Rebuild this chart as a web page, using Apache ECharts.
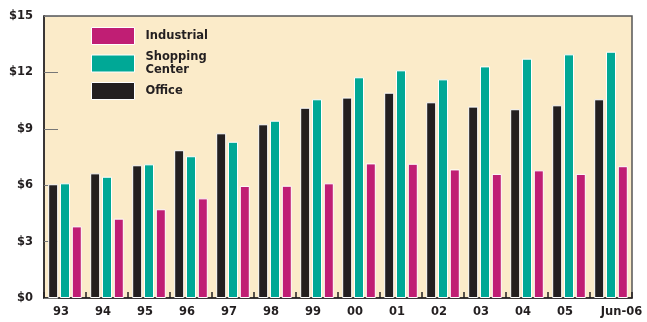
<!DOCTYPE html>
<html>
<head>
<meta charset="utf-8">
<script src="https://cdn.jsdelivr.net/npm/echarts@6/dist/echarts.min.js"></script>
<style>
  html, body { margin: 0; padding: 0; background: #ffffff; }
  #chart { width: 647px; height: 322px; }
</style>
</head>
<body>
<div id="chart"></div>
<script>
// Average rent per square foot by property type
const categories = ['93', '94', '95', '96', '97', '98', '99', '00', '01', '02', '03', '04', '05', 'Jun-06'];
const office = [6.05, 6.63, 7.06, 7.86, 8.76, 9.24, 10.12, 10.66, 10.92, 10.41, 10.18, 10.04, 10.25, 10.57];
const shoppingCenter = [6.10, 6.45, 7.11, 7.54, 8.31, 9.43, 10.57, 11.74, 12.11, 11.63, 12.32, 12.73, 12.96, 13.10];
const industrial = [3.81, 4.22, 4.72, 5.30, 5.96, 5.97, 6.10, 7.16, 7.14, 6.84, 6.60, 6.79, 6.60, 7.01];
const yTicks = [0, 3, 6, 9, 12, 15];

const colors = { office: '#231F20', shopping: '#00A896', industrial: '#C01E74' };
const font = '"DejaVu Sans", "Open Sans", sans-serif';

const chart = echarts.init(document.getElementById('chart'), null, { renderer: 'canvas' });

function barSeries(name, data, color) {
  return {
    name: name,
    type: 'bar',
    data: data,
    barWidth: 10,
    barGap: '18%',
    itemStyle: { color: color, borderColor: '#ffffff', borderWidth: 1 },
    emphasis: { disabled: true }
  };
}

chart.setOption({
  animation: false,
  backgroundColor: '#ffffff',
  grid: {
    left: 44, right: 15, top: 16, bottom: 24,
    show: true,
    backgroundColor: '#FBEBC9',
    borderColor: '#555555',
    borderWidth: 1.5
  },
  legend: {
    orient: 'vertical',
    left: 91,
    top: 27,
    padding: 0,
    icon: 'rect',
    itemWidth: 43,
    itemHeight: 17,
    itemGap: 5.5,
    data: ['Industrial', 'Shopping Center', 'Office'],
    formatter: function (name) { return name === 'Shopping Center' ? 'Shopping\nCenter' : name; },
    textStyle: {
      fontFamily: font, fontWeight: 'bold', fontSize: 11.5,
      color: '#231F20', lineHeight: 13, padding: [0, 0, 0, 6]
    },
    itemStyle: { borderColor: '#ffffff', borderWidth: 1 }
  },
  xAxis: {
    type: 'category',
    data: categories,
    axisLine: { show: true, lineStyle: { color: '#231F20', width: 1.5 } },
    axisTick: { show: true, inside: true, length: 6, interval: 0, lineStyle: { color: '#231F20', width: 1.5 } },
    axisLabel: {
      margin: 8,
      interval: 0,
      formatter: function (v) { return v === 'Jun-06' ? '{j|' + v + '}' : '{a|' + v + '}'; },
      rich: {
        a: { fontFamily: font, fontWeight: 'bold', fontSize: 11.5, color: '#231F20', padding: [0, 8, 0, 0] },
        j: { fontFamily: font, fontWeight: 'bold', fontSize: 11.5, color: '#231F20', padding: [0, 0, 0, 21] }
      }
    }
  },
  yAxis: {
    type: 'value',
    min: yTicks[0],
    max: yTicks[yTicks.length - 1],
    interval: yTicks[1] - yTicks[0],
    splitLine: { show: false },
    axisLine: { show: true, lineStyle: { color: '#231F20', width: 1.5 } },
    axisTick: { show: true, inside: true, length: 14, lineStyle: { color: '#777777', width: 1 } },
    axisLabel: {
      margin: 11,
      fontFamily: font, fontWeight: 'bold', fontSize: 11.5, color: '#231F20',
      formatter: function (v) { return '$' + v; }
    }
  },
  series: [
    barSeries('Office', office, colors.office),
    barSeries('Shopping Center', shoppingCenter, colors.shopping),
    barSeries('Industrial', industrial, colors.industrial)
  ]
});
</script>
</body>
</html>
